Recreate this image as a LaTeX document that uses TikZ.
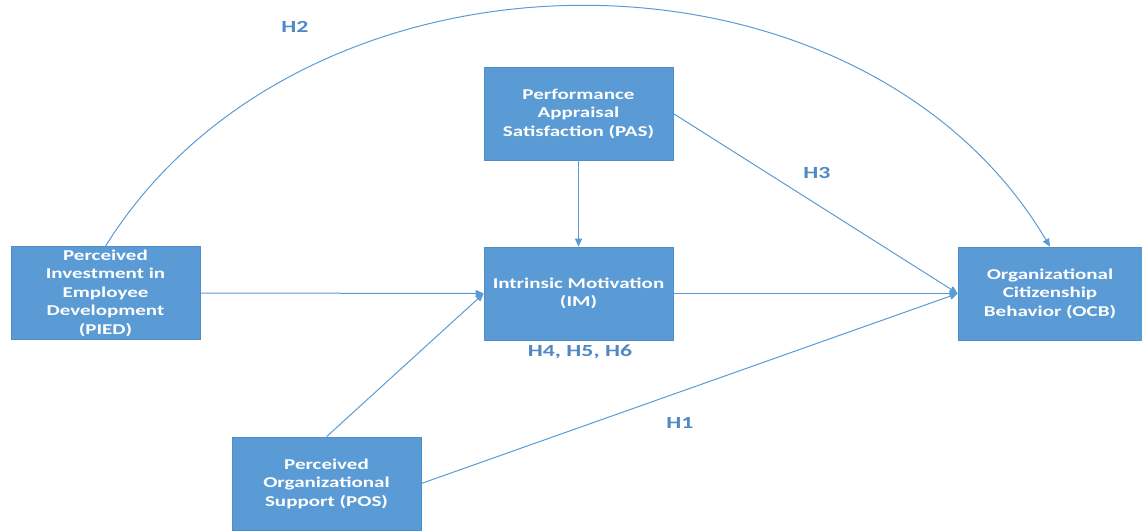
\documentclass[tikz,border=0pt]{standalone}
\usepackage{fontspec}
\setmainfont{Carlito}[FakeStretch=1.4]
\usetikzlibrary{arrows.meta}
\definecolor{boxblue}{HTML}{5B9BD5}
\definecolor{boxedge}{HTML}{4F8DC9}
\definecolor{hypblue}{HTML}{5088C4}

\begin{document}
\begin{tikzpicture}[x=1pt, y=-1pt,
    construct/.style={fill=boxblue, draw=boxedge, line width=0.6pt, minimum width=189pt, minimum height=93pt,
        align=center, text=white, font=\bfseries\fontsize{15}{18.5}\selectfont, inner sep=2pt},
    hyp/.style={text=hypblue, font=\bfseries\fontsize{17}{19}\selectfont},
    path/.style={draw=boxblue, line width=1pt, -{Triangle[length=8pt, width=7pt]}}]

    \useasboundingbox (0,0) rectangle (1142,530);

    \node (pied) [construct] at (105.5,293) {Perceived\\Investment in\\Employee\\Development\\(PIED)};
    \node (pas) [construct] at (578.5,113.5) {Performance\\Appraisal\\Satisfaction (PAS)};
    \node (im) [construct] at (578.5,293.5) {Intrinsic Motivation\\(IM)};
    \node (ocb) [construct, minimum width=184pt] at (1050,293.5) {Organizational\\Citizenship\\Behavior (OCB)};
    \node (pos) [construct] at (326.5,483.5) {Perceived\\Organizational\\Support (POS)};

    \draw [path] (pied.east) -- (im.west);
    \draw [path] (pas.south) -- (im.north);
    \draw [path] (pos.north) -- (im.west);
    \draw [path] (im.east) -- (ocb.west);
    \draw [path] (pas.east) -- (ocb.west);
    \draw [path] (pos.east) -- (ocb.west);
    \draw [path] (pied.north) .. controls (305,-74) and (860,-74) .. (ocb.north);

    \node (h2) [hyp] at (295,27) {H2};
    \node (h3) [hyp] at (817,173) {H3};
    \node (h456) [hyp] at (580,352) {H4, H5, H6};
    \node (h1) [hyp] at (680,423) {H1};

\end{tikzpicture}
\end{document}
